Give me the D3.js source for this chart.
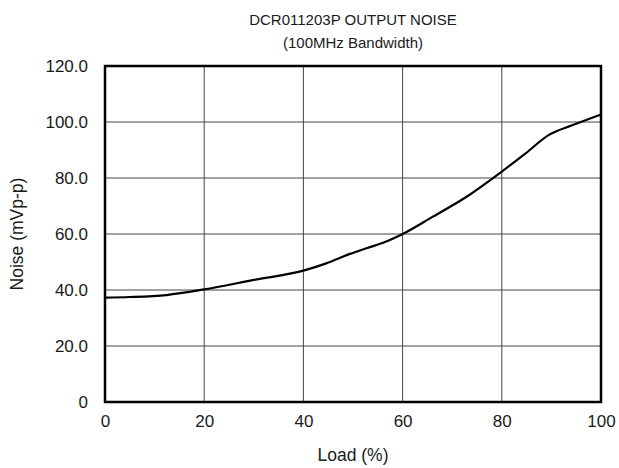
<!DOCTYPE html>
<html><head><meta charset="utf-8">
<script src="https://cdn.jsdelivr.net/npm/d3@7/dist/d3.min.js"></script>
<style>body{margin:0;background:#fff}svg{display:block}text{font-family:"Liberation Sans",Arial,sans-serif;fill:#1a1a1a}</style>
</head><body>
<script>
const loadPct = [0, 5, 12.4, 20, 30, 40, 44.6, 49.4, 52.7, 56.7, 60, 66.1, 72.9, 80, 84.8, 89.5, 94.3, 100];
const noise   = [37.3, 37.5, 38.2, 40.2, 43.6, 46.9, 49.5, 52.9, 54.9, 57.3, 60, 66.2, 73.3, 82.3, 88.8, 95.4, 98.9, 102.7];
const xTicks = [0, 20, 40, 60, 80, 100];
const yTicks = [0, 20, 40, 60, 80, 100, 120];
const yTickLabels = ["0", "20.0", "40.0", "60.0", "80.0", "100.0", "120.0"];
const title1 = "DCR011203P OUTPUT NOISE";
const title2 = "(100MHz Bandwidth)";
const xTitle = "Load (%)";
const yTitle = "Noise (mVp-p)";

const W = 619, H = 468;
const m = {l:105, r:18, t:66, b:66};
const svg = d3.select("body").append("svg").attr("width", W).attr("height", H);
const x = d3.scaleLinear().domain([0,100]).range([m.l, W - m.r]);
const y = d3.scaleLinear().domain([0,120]).range([H - m.b, m.t]);
const FONT = '"Liberation Sans",Arial,sans-serif';

// grid
svg.append("g").selectAll("line.v").data(xTicks.slice(1,-1)).join("line")
  .attr("x1", d=>x(d)).attr("x2", d=>x(d)).attr("y1", y(0)).attr("y2", y(120))
  .attr("stroke", "#444").attr("stroke-width", 1);
svg.append("g").selectAll("line.h").data(yTicks.slice(1,-1)).join("line")
  .attr("y1", d=>y(d)).attr("y2", d=>y(d)).attr("x1", x(0)).attr("x2", x(100))
  .attr("stroke", "#444").attr("stroke-width", 1);

// axes labels
const xAxis = d3.axisBottom(x).tickValues(xTicks).tickSize(0).tickPadding(13).tickFormat(d3.format("d"));
const gx = svg.append("g").attr("transform", `translate(0,${y(0)})`).call(xAxis);
gx.select(".domain").remove();
gx.selectAll("text").style("font-size","17px").attr("fill","#1a1a1a").style("font-family",FONT);

const yAxis = d3.axisLeft(y).tickValues(yTicks).tickSize(0).tickPadding(17).tickFormat((d,i)=>yTickLabels[i]);
const gy = svg.append("g").attr("transform", `translate(${x(0)},0)`).call(yAxis);
gy.select(".domain").remove();
gy.selectAll("text").style("font-size","17px").attr("fill","#1a1a1a").style("font-family",FONT);

// curve
const line = d3.line().x((d,i)=>x(loadPct[i])).y(d=>y(d)).curve(d3.curveMonotoneX);
svg.append("path").attr("d", line(noise)).attr("fill","none").attr("stroke","#000").attr("stroke-width",2.2);

// border
svg.append("rect").attr("x", x(0)).attr("y", y(120)).attr("width", x(100)-x(0)).attr("height", y(0)-y(120))
  .attr("fill","none").attr("stroke","#000").attr("stroke-width",2.5);

// titles
svg.append("text").attr("x", (x(0)+x(100))/2).attr("y", 25).attr("text-anchor","middle").style("font-size","15px").text(title1);
svg.append("text").attr("x", (x(0)+x(100))/2).attr("y", 48).attr("text-anchor","middle").style("font-size","15px").text(title2);
svg.append("text").attr("x", (x(0)+x(100))/2).attr("y", 461).attr("text-anchor","middle").style("font-size","17.5px").text(xTitle);
svg.append("text").attr("transform", `translate(23,${(y(0)+y(120))/2}) rotate(-90)`).attr("text-anchor","middle").style("font-size","17.5px").text(yTitle);
</script>
</body></html>
